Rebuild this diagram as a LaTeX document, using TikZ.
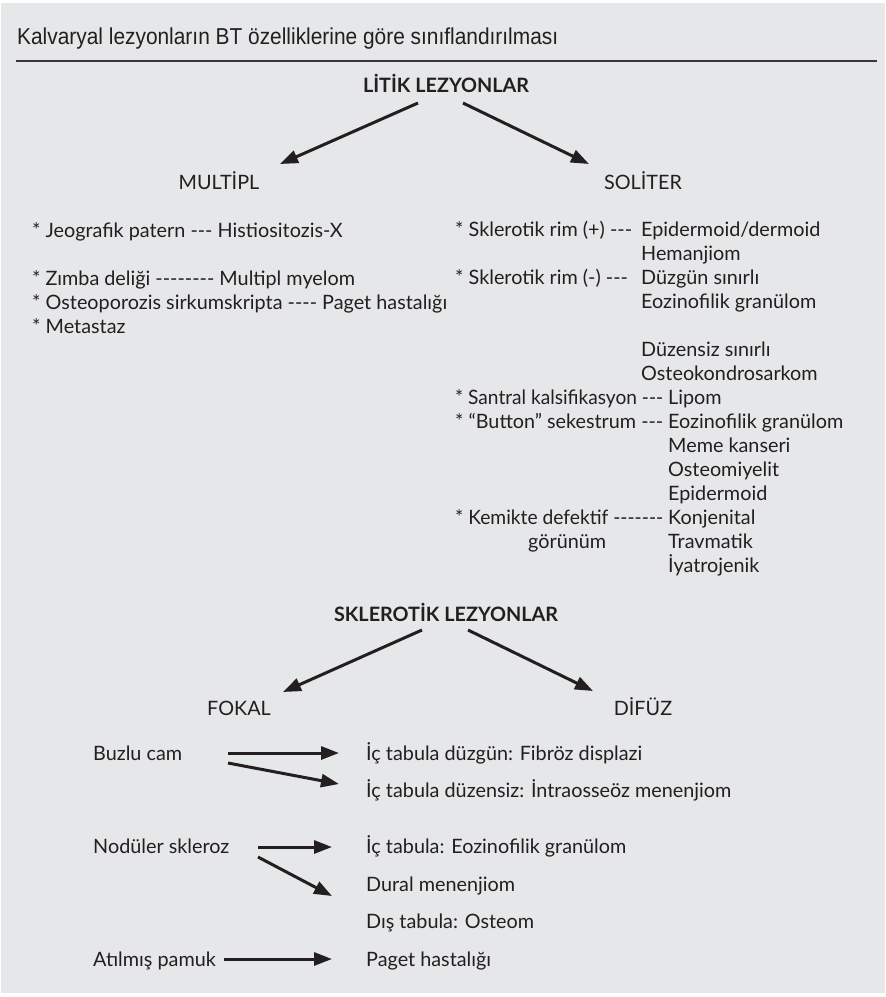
\documentclass[tikz,border=0pt]{standalone}
\usepackage{fontspec}
\usepackage{graphicx}
\usetikzlibrary{arrows.meta}
\setmainfont{Lato}[Ligatures=TeXOff]
\newfontfamily\headfont{Liberation Sans}[Ligatures=TeXOff]
\definecolor{bg}{HTML}{E6E7E8}
\definecolor{ink}{HTML}{231F20}
\tikzset{
  txt/.style={anchor=base west, inner sep=0pt, text=ink, font=\fontsize{19.8}{24}\selectfont},
  ctxt/.style={anchor=base, inner sep=0pt, text=ink, font=\fontsize{19.8}{24}\selectfont},
  btxt/.style={anchor=base, inner sep=0pt, text=ink, font=\fontsize{19.8}{24}\selectfont\bfseries},
  arr/.style={draw=ink, line width=3pt, -{Triangle[length=18pt,width=13pt]}, shorten >=0pt}
}
\begin{document}
\begin{tikzpicture}[x=1pt,y=-1pt]
\useasboundingbox (0,0) rectangle (886,997);
\fill[white] (0,0) rectangle (886,997);
\fill[bg] (1,3) rectangle (885,993);
% header
\node[anchor=base west, inner sep=0pt, text=ink] (head) at (17,44)
  {\resizebox{541pt}{\height}{\headfont\fontsize{23}{26}\selectfont Kalvaryal lezyonların BT özelliklerine göre sınıflandırılması}};
\coordinate (ruleL) at (16,61);
\coordinate (ruleR) at (877,61);
\draw[ink!90, line width=2pt] (ruleL) -- (ruleR);

% LITIK
\node[btxt] (litik) at (446,92) {LİTİK LEZYONLAR};
\node[ctxt] (multi) at (219,189) {MULTİPL};
\node[ctxt] (solit) at (643,189) {SOLİTER};
\coordinate (l1a) at (418,103); \coordinate (l1b) at (280,164);
\coordinate (l2a) at (463,103); \coordinate (l2b) at (589,164);
\draw[arr] (l1a) -- (l1b);
\draw[arr] (l2a) -- (l2b);

% left list
\node[txt] (m1) at (32,237) {* Jeografik patern --- Histiositozis-X};
\node[txt] (m2) at (32,285) {* Zımba deliği -------- Multipl myelom};
\node[txt] (m3) at (32,309) {* Osteoporozis sirkumskripta ---- Paget hastalığı};
\node[txt] (m4) at (32,333) {* Metastaz};

% right list
\node[txt] (s1) at (455,236) {* Sklerotik rim (+) ---};
\node[txt] (s1a) at (641,236) {Epidermoid/dermoid};
\node[txt] (s1b) at (641,260) {Hemanjiom};
\node[txt] (s2) at (455,284) {* Sklerotik rim (-) ---};
\node[txt] (s2a) at (641,284) {Düzgün sınırlı};
\node[txt] (s2b) at (641,308) {Eozinofilik granülom};
\node[txt] (s2c) at (641,356) {Düzensiz sınırlı};
\node[txt] (s2d) at (641,380) {Osteokondrosarkom};
\node[txt] (s3) at (455,404) {\resizebox{208pt}{\height}{* Santral kalsifikasyon ---}};
\node[txt] (s3a) at (668,404) {Lipom};
\node[txt] (s4) at (455,428) {\resizebox{208pt}{\height}{* “Button” sekestrum ---}};
\node[txt] (s4a) at (668,428) {Eozinofilik granülom};
\node[txt] (s4b) at (668,452) {Meme kanseri};
\node[txt] (s4c) at (668,476) {Osteomiyelit};
\node[txt] (s4d) at (668,500) {Epidermoid};
\node[txt] (s5) at (455,524) {\resizebox{208pt}{\height}{* Kemikte defektif -------}};
\node[txt] (s5x) at (528,548) {görünüm};
\node[txt] (s5a) at (668,524) {Konjenital};
\node[txt] (s5b) at (668,548) {Travmatik};
\node[txt] (s5c) at (668,572) {İyatrojenik};

% SKLEROTIK
\node[btxt] (skl) at (446,621) {SKLEROTİK LEZYONLAR};
\node[ctxt] (fokal) at (239,715) {FOKAL};
\node[ctxt] (difuz) at (643,715) {DİFÜZ};
\coordinate (k1a) at (422,630); \coordinate (k1b) at (283,692);
\coordinate (k2a) at (468,630); \coordinate (k2b) at (593,691);
\draw[arr] (k1a) -- (k1b);
\draw[arr] (k2a) -- (k2b);

\node[txt] (buz) at (93,760) {Buzlu cam};
\node[txt] (buz1) at (366,760) {İç tabula düzgün: Fibröz displazi};
\node[txt] (buz2) at (366,797) {İç tabula düzensiz: İntraosseöz menenjiom};
\coordinate (b1a) at (228,753); \coordinate (b1b) at (339,753);
\coordinate (b2a) at (228,763); \coordinate (b2b) at (339,784);
\draw[arr] (b1a) -- (b1b);
\draw[arr] (b2a) -- (b2b);

\node[txt] (nod) at (93,853) {Nodüler skleroz};
\node[txt] (nod1) at (366,853) {İç tabula: Eozinofilik granülom};
\node[txt] (nod2) at (366,891) {Dural menenjiom};
\node[txt] (nod3) at (366,928) {Dış tabula: Osteom};
\coordinate (n1a) at (258,847); \coordinate (n1b) at (332,847);
\coordinate (n2a) at (258,857); \coordinate (n2b) at (332,896);
\draw[arr] (n1a) -- (n1b);
\draw[arr] (n2a) -- (n2b);

\node[txt] (atil) at (93,966) {Atılmış pamuk};
\node[txt] (paget) at (366,966) {Paget hastalığı};
\coordinate (a1a) at (224,959); \coordinate (a1b) at (332,959);
\draw[arr] (a1a) -- (a1b);
\end{tikzpicture}
\end{document}
